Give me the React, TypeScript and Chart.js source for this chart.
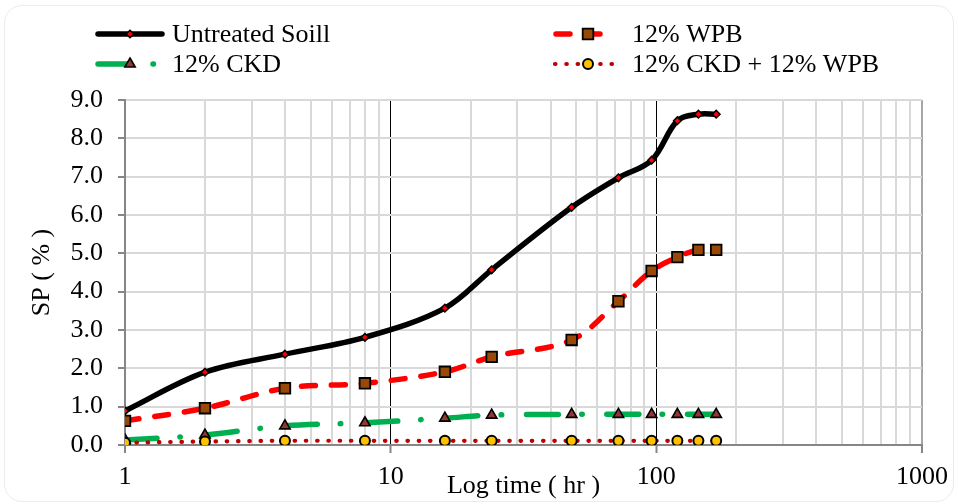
import React, { useEffect, useRef } from "react";
import { Chart, registerables } from "chart.js";

Chart.register(...registerables);

const times = [1, 2, 4, 8, 16, 24, 48, 72, 96, 120, 144, 168];
const untreated = [0.89, 1.9, 2.37, 2.81, 3.57, 4.57, 6.2, 6.97, 7.43, 8.46, 8.63, 8.63];
const wpb = [0.63, 0.96, 1.48, 1.61, 1.91, 2.3, 2.74, 3.75, 4.54, 4.9, 5.09, 5.09];
const ckd = [0.13, 0.26, 0.5, 0.58, 0.7, 0.78, 0.8, 0.8, 0.8, 0.8, 0.8, 0.8];
const ckdWpb = [0.06, 0.09, 0.11, 0.11, 0.11, 0.11, 0.11, 0.11, 0.11, 0.11, 0.11, 0.11];
const seriesNames = ["Untreated Soill", "12% WPB", "12% CKD", "12% CKD + 12% WPB"];
const xTickLabels = [1, 10, 100, 1000];
const yTicks = [0, 1, 2, 3, 4, 5, 6, 7, 8, 9];
const xTitle = "Log time ( hr )";
const yTitle = "SP ( % )";

const FONT = "'Liberation Serif', 'Times New Roman', serif";

type Style = {
  color: string;
  dash: number[];
  width: number;
  point: string;
  radius: number;
  fill: string;
  pbw: number;
};

const styles: Style[] = [
  { color: "#000000", dash: [], width: 5.5, point: "rectRot", radius: 3.8, fill: "#FF0000", pbw: 1.5 },
  { color: "#FF0000", dash: [14, 16], width: 5.5, point: "rect", radius: 7.5, fill: "#984807", pbw: 1.8 },
  { color: "#00B050", dash: [32, 23, 0.5, 25], width: 5.5, point: "triangle", radius: 6, fill: "#943634", pbw: 1.6 },
  { color: "#C00000", dash: [0.5, 10.8], width: 4.2, point: "circle", radius: 5, fill: "#FFC000", pbw: 2 },
];

function drawMarker(ctx: CanvasRenderingContext2D, s: Style, x: number, y: number) {
  const r = s.radius;
  ctx.save();
  ctx.setLineDash([]);
  ctx.beginPath();
  if (s.point === "circle") {
    ctx.arc(x, y, r, 0, Math.PI * 2);
  } else if (s.point === "rect") {
    const h = r * Math.SQRT1_2;
    ctx.rect(x - h, y - h, 2 * h, 2 * h);
  } else if (s.point === "rectRot") {
    ctx.moveTo(x, y - r);
    ctx.lineTo(x + r, y);
    ctx.lineTo(x, y + r);
    ctx.lineTo(x - r, y);
    ctx.closePath();
  } else if (s.point === "triangle") {
    for (let i = 0; i < 3; i++) {
      const a = (i * 2 * Math.PI) / 3;
      const px = x + Math.sin(a) * r;
      const py = y - Math.cos(a) * r;
      if (i === 0) ctx.moveTo(px, py);
      else ctx.lineTo(px, py);
    }
    ctx.closePath();
  }
  ctx.fillStyle = s.fill;
  ctx.fill();
  ctx.lineWidth = s.pbw;
  ctx.strokeStyle = "#000";
  ctx.stroke();
  ctx.restore();
}

const legendPlugin = {
  id: "customLegend",
  afterDraw(chart: any) {
    const ctx: CanvasRenderingContext2D = chart.ctx;
    const items = [
      { s: styles[0], x0: 98, x1: 162, mx: 130, tx: 172, y: 34, name: seriesNames[0] },
      { s: styles[1], x0: 556, x1: 608, mx: 588, tx: 632, y: 34, name: seriesNames[1] },
      { s: styles[2], x0: 98, x1: 160, mx: 130, tx: 172, y: 64, name: seriesNames[2] },
      { s: styles[3], x0: 555, x1: 622, mx: 588, tx: 632, y: 64, name: seriesNames[3] },
    ];
    ctx.save();
    for (const it of items) {
      ctx.beginPath();
      ctx.setLineDash(it.s.dash);
      ctx.lineCap = "round";
      ctx.lineWidth = it.s.width;
      ctx.strokeStyle = it.s.color;
      ctx.moveTo(it.x0, it.y);
      ctx.lineTo(it.x1, it.y);
      ctx.stroke();
      drawMarker(ctx, it.s, it.mx, it.y);
      ctx.setLineDash([]);
      ctx.fillStyle = "#000";
      ctx.font = `26px ${FONT}`;
      ctx.textBaseline = "middle";
      ctx.textAlign = "left";
      ctx.fillText(it.name, it.tx, it.y + 1);
    }
    ctx.restore();
  },
};

export default function App() {
  const ref = useRef<HTMLCanvasElement | null>(null);
  useEffect(() => {
    if (!ref.current) return;
    const all = [untreated, wpb, ckd, ckdWpb];
    const datasets = all.map((vals, i) => {
      const s = styles[i];
      return {
        label: seriesNames[i],
        data: vals.map((v, j) => ({ x: times[j], y: v })),
        borderColor: s.color,
        borderWidth: s.width,
        borderDash: s.dash,
        borderCapStyle: "round" as const,
        borderJoinStyle: "round" as const,
        tension: 0.35,
        fill: false,
        pointStyle: s.point,
        pointRadius: s.radius,
        pointBackgroundColor: s.fill,
        pointBorderColor: "#000",
        pointBorderWidth: s.pbw,
        order: 4 - i,
      };
    });
    const isMajor = (v: number) => xTickLabels.includes(v);
    const chart = new Chart(ref.current, {
      type: "line",
      data: { datasets: datasets as any },
      plugins: [legendPlugin],
      options: {
        animation: false,
        responsive: false,
        devicePixelRatio: 1,
        layout: { padding: { left: 0, top: 100, right: 36, bottom: 0 } },
        plugins: { legend: { display: false }, tooltip: { enabled: false } },
        scales: {
          x: {
            type: "logarithmic",
            min: 1,
            max: 1000,
            afterBuildTicks: (scale: any) => {
              const t: { value: number }[] = [];
              for (let d = 1; d < 1000; d *= 10) {
                for (let k = 1; k < 10; k++) t.push({ value: k * d });
              }
              t.push({ value: 1000 });
              scale.ticks = t;
            },
            afterFit: (scale: any) => {
              scale.height = 59;
            },
            ticks: {
              autoSkip: false,
              maxRotation: 0,
              padding: 9,
              color: "#000",
              font: { family: FONT, size: 26 },
              callback: (v: any) => (isMajor(Number(v)) ? String(v) : ""),
            },
            grid: {
              color: (c: any) => {
                const v = c.tick?.value;
                if (v === 10 || v === 100) return "#000000";
                if (v === 1000) return "#a6a6a6";
                if (v === 1) return "rgba(0,0,0,0)";
                return "#d9d9d9";
              },
              lineWidth: (c: any) => {
                const v = c.tick?.value;
                if (v === 10 || v === 100) return 1;
                return 2;
              },
              tickColor: (c: any) => (isMajor(c.tick?.value) ? "#868686" : "rgba(0,0,0,0)"),
              tickLength: 8,
              tickWidth: 2,
            },
            border: { color: "#868686", width: 2 },
            title: {
              display: true,
              text: xTitle,
              color: "#000",
              font: { family: FONT, size: 26 },
              padding: { top: 0, bottom: 2 },
            },
          },
          y: {
            type: "linear",
            min: 0,
            max: 9,
            afterBuildTicks: (scale: any) => {
              scale.ticks = yTicks.map((v) => ({ value: v }));
            },
            afterFit: (scale: any) => {
              scale.width = 125;
            },
            ticks: {
              padding: 15,
              color: "#000",
              font: { family: FONT, size: 26 },
              callback: (v: any) => Number(v).toFixed(1),
            },
            grid: {
              color: "#d9d9d9",
              lineWidth: 2,
              tickColor: "#868686",
              tickLength: 7,
              tickWidth: 2,
            },
            border: { color: "#868686", width: 2 },
            title: {
              display: true,
              text: yTitle,
              color: "#000",
              font: { family: FONT, size: 26 },
              padding: { top: 27, bottom: 0 },
            },
          },
        },
      },
    });
    return () => chart.destroy();
  }, []);
  return (
    <div style={{ position: "fixed", left: 0, top: 0, width: 958, height: 504, background: "#fff" }}>
      <div
        style={{
          position: "absolute",
          left: 4,
          top: 5,
          width: 950,
          height: 497,
          border: "1px solid #ececec",
          borderRadius: 18,
          boxSizing: "border-box",
        }}
      />
      <canvas ref={ref} width={958} height={504} style={{ position: "absolute", left: 0, top: 0 }} />
    </div>
  );
}
